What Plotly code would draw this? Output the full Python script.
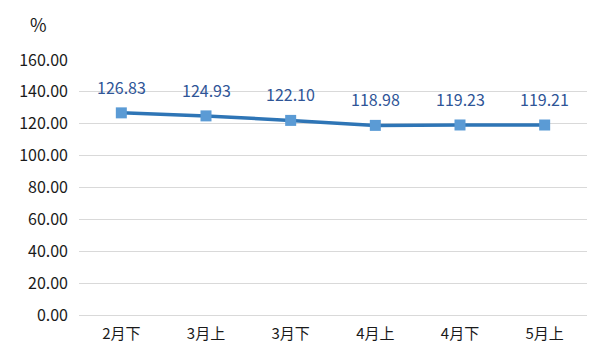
import plotly.graph_objects as go

categories = ["2月下", "3月上", "3月下", "4月上", "4月下", "5月上"]
values = [126.83, 124.93, 122.10, 118.98, 119.23, 119.21]
y_ticks = [0, 20, 40, 60, 80, 100, 120, 140, 160]
y_tick_labels = [f"{v:.2f}" for v in y_ticks]

font_family = "Noto Sans CJK SC, Noto Sans, sans-serif"

fig = go.Figure()
fig.add_trace(go.Scatter(
    x=categories, y=values, mode="lines+markers",
    line=dict(color="#2E75B6", width=3.5),
    marker=dict(symbol="square", size=11, color="#5B9BD5"),
    cliponaxis=False, hoverinfo="skip",
))
for c, v in zip(categories, values):
    fig.add_annotation(x=c, y=v, text=f"{v:.2f}", showarrow=False,
                       yshift=26, font=dict(size=16, color="#2F5597", family=font_family))

fig.add_annotation(xref="paper", yref="paper", x=-0.08, y=1.14, xanchor="center", yanchor="middle",
                   text="%", showarrow=False, font=dict(size=18, color="#1a1a1a", family=font_family))

fig.update_layout(
    width=600, height=359,
    margin=dict(l=79, r=13, t=60, b=44),
    paper_bgcolor="white", plot_bgcolor="white",
    showlegend=False,
    font=dict(family=font_family, size=14, color="#1a1a1a"),
)
fig.update_xaxes(type="category", range=[-0.5, 5.5], showgrid=False, showline=False,
                 ticks="", ticklabelstandoff=8, tickfont=dict(size=15))
fig.update_yaxes(range=[0, 160], tickvals=y_ticks, ticktext=y_tick_labels,
                 showgrid=True, gridcolor="#D9D9D9", gridwidth=1.3,
                 zeroline=True, zerolinecolor="#D9D9D9", zerolinewidth=1.3,
                 showline=False, ticks="", ticklabelstandoff=10, tickfont=dict(size=16))

fig.write_html("out.html")
